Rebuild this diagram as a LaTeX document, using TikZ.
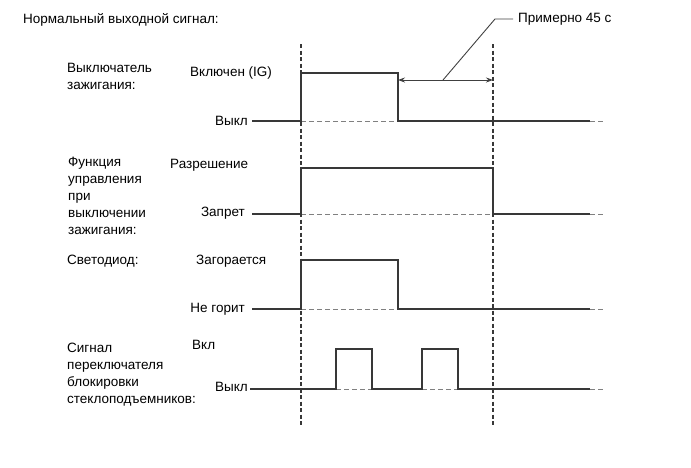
\documentclass[tikz,border=0pt]{standalone}
\usepackage{fontspec}
\setmainfont{Liberation Sans}
\usetikzlibrary{arrows.meta}
\begin{document}
\begin{tikzpicture}[x=1pt,y=-1pt,
  font=\fontsize{13.5}{17}\selectfont,
  sig/.style={line width=1.3pt, draw=black!78},
  basel/.style={line width=1pt, draw=black!50, dash pattern=on 5pt off 3pt},
  guide/.style={line width=1.3pt, draw=black!78, dash pattern=on 4pt off 2.5pt},
  lbl/.style={inner sep=0pt, text=black},
  dim/.style={line width=0.9pt, draw=black!75, {Stealth[length=7pt,width=5pt]}-{Stealth[length=7pt,width=5pt]}}]
\useasboundingbox (0,0) rectangle (691,467);

% title
\node[lbl, anchor=west] (title) at (23,20) {Нормальный выходной сигнал:};

% guides
\draw[guide] (301,44) -- (301,426);
\draw[guide] (493,44) -- (493,426);

% ignition switch
\node[lbl, anchor=west, align=left] (ign) at (67,76) {Выключатель\\зажигания:};
\node[lbl, anchor=west] (ignon) at (190,73) {Включен (IG)};
\node[lbl, anchor=east] (ignoff) at (248,121) {Выкл};
\draw[basel] (301,121) -- (398,121);
\draw[basel] (590,121) -- (605,121);
\draw[sig] (252,121) -- (301,121) -- (301,73) -- (398,73) -- (398,121) -- (590,121);

% 45 s
\coordinate (a1) at (398,80);
\coordinate (a2) at (493,80);
\draw[dim] (a1) -- (a2);
\coordinate (lead) at (443,80);
\node[lbl, anchor=west] (note) at (518,19) {Примерно 45 с};
\draw[line width=0.9pt, black!75] (lead) -- (495,19) -- ([xshift=-5pt]note.west);

% function
\node[lbl, anchor=west, align=left] (fn) at (68,196) {Функция\\управления\\при\\выключении\\зажигания:};
\node[lbl, anchor=west] (fnon) at (170,165) {Разрешение};
\node[lbl, anchor=east] (fnoff) at (245,213) {Запрет};
\draw[basel] (301,214) -- (493,214);
\draw[basel] (590,214) -- (605,214);
\draw[sig] (252,214) -- (301,214) -- (301,168) -- (493,168) -- (493,214) -- (590,214);

% LED
\node[lbl, anchor=west] (led) at (67,261) {Светодиод:};
\node[lbl, anchor=west] (ledon) at (196,261) {Загорается};
\node[lbl, anchor=east] (ledoff) at (245,309) {Не горит};
\draw[basel] (301,309) -- (398,309);
\draw[basel] (590,309) -- (605,309);
\draw[sig] (252,309) -- (301,309) -- (301,260) -- (398,260) -- (398,309) -- (590,309);

% window lock
\node[lbl, anchor=west, align=left] (win) at (67,375) {Сигнал\\переключателя\\блокировки\\стеклоподъемников:};
\node[lbl, anchor=west] (winon) at (192,345) {Вкл};
\node[lbl, anchor=east] (winoff) at (248,387) {Выкл};
\draw[basel] (336,389) -- (372,389);
\draw[basel] (422,389) -- (458,389);
\draw[basel] (590,389) -- (605,389);
\draw[sig] (250,389) -- (336,389) -- (336,349) -- (372,349) -- (372,389) -- (422,389) -- (422,349) -- (458,349) -- (458,389) -- (590,389);
\end{tikzpicture}
\end{document}
